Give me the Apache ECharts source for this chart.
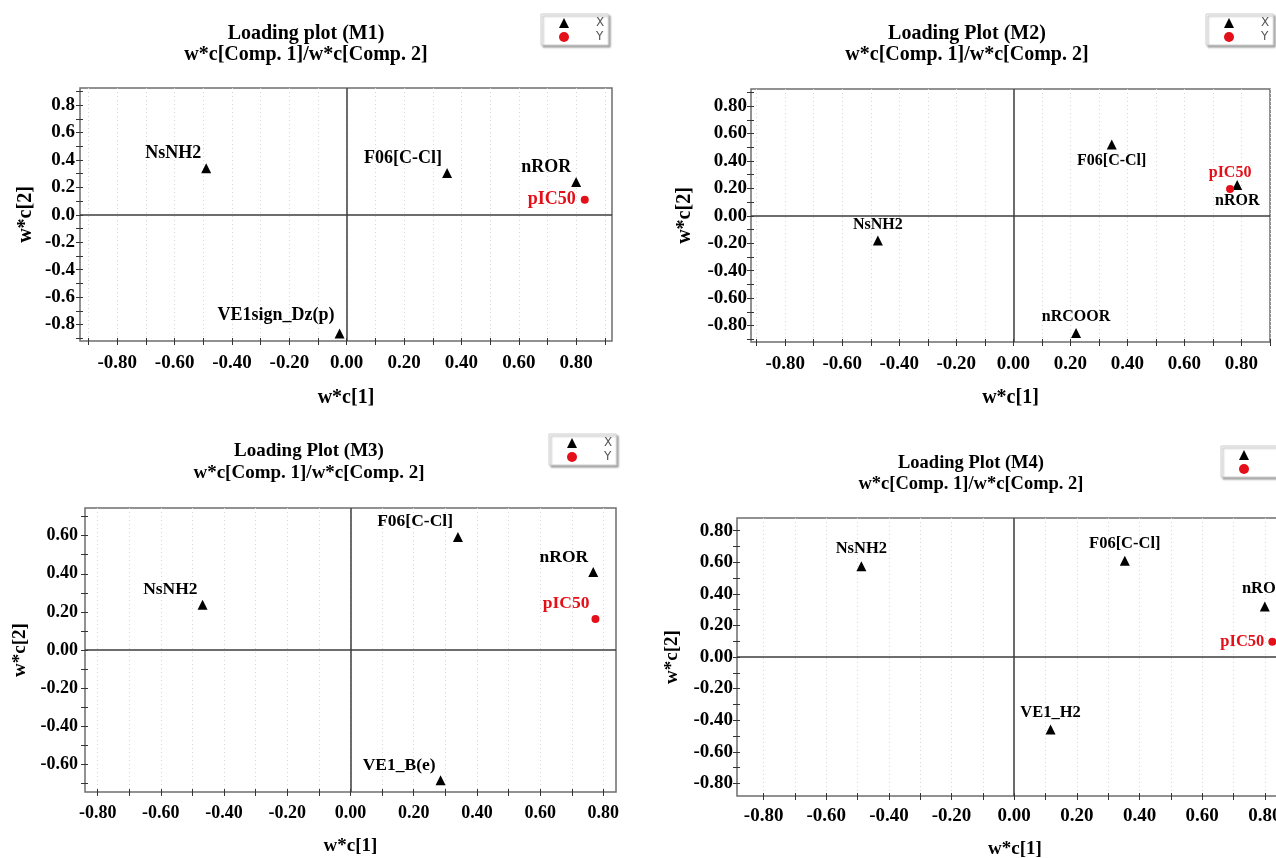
<!DOCTYPE html>
<html>
<head>
<meta charset="utf-8">
<title>PLS loading plots M1-M4</title>
<script src="https://cdn.jsdelivr.net/npm/echarts@6/dist/echarts.min.js"></script>
<style>
  html, body { margin: 0; padding: 0; background: #ffffff; }
  #chart { width: 1276px; height: 858px; }
</style>
</head>
<body>
<div id="chart"></div>
<script>
// ---- Loadings w*c[1] / w*c[2] for the four PLS models ----
// M1
const m1XVars = ['NsNH2', 'F06[C-Cl]', 'nROR', 'VE1sign_Dz(p)'];
const m1XW1 = [-0.49, 0.35, 0.80, -0.025];
const m1XW2 = [0.34, 0.305, 0.24, -0.865];
const m1YVars = ['pIC50'];
const m1YW1 = [0.83];
const m1YW2 = [0.11];
// M2
const m2XVars = ['F06[C-Cl]', 'nROR', 'NsNH2', 'nRCOOR'];
const m2XW1 = [0.345, 0.785, -0.475, 0.22];
const m2XW2 = [0.52, 0.225, -0.18, -0.855];
const m2YVars = ['pIC50'];
const m2YW1 = [0.76];
const m2YW2 = [0.195];
// M3
const m3XVars = ['NsNH2', 'F06[C-Cl]', 'nROR', 'VE1_B(e)'];
const m3XW1 = [-0.468, 0.34, 0.768, 0.285];
const m3XW2 = [0.238, 0.593, 0.409, -0.684];
const m3YVars = ['pIC50'];
const m3YW1 = [0.775];
const m3YW2 = [0.163];
// M4
const m4XVars = ['NsNH2', 'F06[C-Cl]', 'nROR', 'VE1_H2'];
const m4XW1 = [-0.488, 0.353, 0.80, 0.116];
const m4XW2 = [0.574, 0.61, 0.32, -0.459];
const m4YVars = ['pIC50'];
const m4YW1 = [0.824];
const m4YW2 = [0.097];

// ---- Tick marks and tick labels ----
const ticksPm09 = [-0.9, -0.8, -0.7, -0.6, -0.5, -0.4, -0.3, -0.2, -0.1, 0, 0.1, 0.2, 0.3, 0.4, 0.5, 0.6, 0.7, 0.8, 0.9];
const ticksPm08 = [-0.8, -0.7, -0.6, -0.5, -0.4, -0.3, -0.2, -0.1, 0, 0.1, 0.2, 0.3, 0.4, 0.5, 0.6, 0.7, 0.8];
const ticksPm07 = [-0.7, -0.6, -0.5, -0.4, -0.3, -0.2, -0.1, 0, 0.1, 0.2, 0.3, 0.4, 0.5, 0.6, 0.7];
const labelsPm08 = [-0.8, -0.6, -0.4, -0.2, 0, 0.2, 0.4, 0.6, 0.8];
const labelsPm06 = [-0.6, -0.4, -0.2, 0, 0.2, 0.4, 0.6];

const titles = ['Loading plot (M1)', 'Loading Plot (M2)', 'Loading Plot (M3)', 'Loading Plot (M4)'];
const subtitle = 'w*c[Comp. 1]/w*c[Comp. 2]';
const xName = 'w*c[1]';
const yName = 'w*c[2]';
const legendNames = ['X', 'Y'];

// ---- Styling ----
const SERIF = '"Liberation Serif", "Times New Roman", serif';
const INK = '#000000';
const RED = '#e3101a';

// Label placements (style only)
const UPLEFT = { position: 'left', distance: 0, offset: [0, -15] };
const place = {
  m1: { 'NsNH2': UPLEFT, 'F06[C-Cl]': UPLEFT, 'nROR': UPLEFT,
        'VE1sign_Dz(p)': { position: 'left', distance: 0, offset: [0, -18] },
        'pIC50': { position: 'left', distance: 5 } },
  m2: { 'F06[C-Cl]': { position: 'bottom', distance: 3 }, 'nROR': { position: 'bottom', distance: 3 },
        'NsNH2': { position: 'top', distance: 3 }, 'nRCOOR': { position: 'top', distance: 3 },
        'pIC50': { position: 'top', distance: 4 } },
  m3: { 'NsNH2': UPLEFT, 'F06[C-Cl]': UPLEFT, 'nROR': UPLEFT, 'VE1_B(e)': UPLEFT,
        'pIC50': { position: 'left', distance: 2, offset: [0, -15] } },
  m4: { 'NsNH2': { position: 'top', distance: 4 }, 'F06[C-Cl]': { position: 'top', distance: 4 },
        'nROR': { position: 'top', distance: 4 }, 'VE1_H2': { position: 'top', distance: 4 },
        'pIC50': { position: 'left', distance: 4 } }
};

const panels = [
  { key: 'm1', title: titles[0], xv: m1XVars, x1: m1XW1, x2: m1XW2, yv: m1YVars, y1: m1YW1, y2: m1YW2,
    grid: { left: 80, top: 88, width: 532, height: 253 },
    xr: [-0.93, 0.925], yr: [-0.92, 0.925], xt: ticksPm09, xl: labelsPm08, yt: ticksPm09, yl: labelsPm08, yDigits: 1,
    tickFont: 19, labFont: 18, titleFont: 20, titleCx: 306, titleTop: 23, titleGap: 0,
    xMargin: 13, yMargin: 5, xNameGap: 47, yNameGap: 44, nameFont: 20,
    legend: { left: 541, top: 14 } },
  { key: 'm2', title: titles[1], xv: m2XVars, x1: m2XW1, x2: m2XW2, yv: m2YVars, y1: m2YW1, y2: m2YW2,
    grid: { left: 751, top: 89, width: 519, height: 253 },
    xr: [-0.92, 0.90], yr: [-0.92, 0.925], xt: ticksPm09, xl: labelsPm08, yt: ticksPm09, yl: labelsPm08, yDigits: 2,
    tickFont: 19, labFont: 16, titleFont: 20, titleCx: 967, titleTop: 23, titleGap: 0,
    xMargin: 13, yMargin: 4, xNameGap: 46, yNameGap: 56, nameFont: 20,
    legend: { left: 1206, top: 14 } },
  { key: 'm3', title: titles[2], xv: m3XVars, x1: m3XW1, x2: m3XW2, yv: m3YVars, y1: m3YW1, y2: m3YW2,
    grid: { left: 85, top: 508, width: 531, height: 284 },
    xr: [-0.84, 0.84], yr: [-0.745, 0.745], xt: ticksPm08, xl: labelsPm08, yt: ticksPm07, yl: labelsPm06, yDigits: 2,
    tickFont: 18, labFont: 17.5, titleFont: 19, titleCx: 309, titleTop: 441.5, titleGap: 2,
    xMargin: 12, yMargin: 7, xNameGap: 45, yNameGap: 55, nameFont: 19,
    legend: { left: 549, top: 434 } },
  { key: 'm4', title: titles[3], xv: m4XVars, x1: m4XW1, x2: m4XW2, yv: m4YVars, y1: m4YW1, y2: m4YW2,
    grid: { left: 737, top: 518, width: 556, height: 278 },
    xr: [-0.885, 0.89], yr: [-0.88, 0.88], xt: ticksPm09, xl: labelsPm08, yt: ticksPm09, yl: labelsPm08, yDigits: 2,
    tickFont: 19, labFont: 16.5, titleFont: 18.5, titleCx: 971, titleTop: 453.5, titleGap: 1,
    xMargin: 11, yMargin: 4, xNameGap: 44, yNameGap: 55, nameFont: 19,
    legend: { left: 1221, top: 446 } }
];

const option = {
  animation: false,
  backgroundColor: '#ffffff',
  title: [], legend: [], grid: [], xAxis: [], yAxis: [], series: []
};

panels.forEach(function (p, i) {
  const textBold = { fontFamily: SERIF, fontWeight: 'bold', color: INK };

  option.title.push({
    text: p.title, subtext: subtitle,
    left: p.titleCx, top: p.titleTop, textAlign: 'center', padding: 0, itemGap: p.titleGap,
    textStyle: Object.assign({ fontSize: p.titleFont, lineHeight: p.titleFont + 1 }, textBold),
    subtextStyle: Object.assign({ fontSize: p.titleFont, lineHeight: p.titleFont + 1 }, textBold)
  });

  option.legend.push({
    orient: 'vertical', left: p.legend.left, top: p.legend.top,
    selectedMode: false,
    data: [{ name: legendNames[0], icon: 'triangle' }, { name: legendNames[1], icon: 'circle' }],
    itemWidth: 10, itemHeight: 10, itemGap: 2,
    padding: [3, 4, 2, 18],
    backgroundColor: '#ffffff', borderColor: '#cfcfcf', borderWidth: 1,
    shadowColor: 'rgba(0,0,0,0.35)', shadowBlur: 2, shadowOffsetX: 2, shadowOffsetY: 2,
    textStyle: { fontFamily: '"DejaVu Sans", sans-serif', fontSize: 12, lineHeight: 12, color: '#555555', padding: [0, 0, 0, 22] }
  });

  option.grid.push(Object.assign({
    show: true, borderColor: '#6e6e6e', borderWidth: 1.5, backgroundColor: 'transparent',
    containLabel: false, outerBoundsMode: 'none'
  }, p.grid));

  const tickStyle = { color: '#333333', width: 1 };

  // bottom axis with labels, outward ticks and dotted verticals
  option.xAxis.push({
    type: 'value', gridIndex: i, position: 'bottom', min: p.xr[0], max: p.xr[1],
    axisLine: { show: false, onZero: false },
    axisTick: { show: true, customValues: p.xt, length: 4, lineStyle: tickStyle },
    axisLabel: Object.assign({ customValues: p.xl, margin: p.xMargin, fontSize: p.tickFont,
      formatter: function (v) { return v.toFixed(2); } }, textBold),
    splitLine: { show: true, lineStyle: { color: '#d6d6d6', width: 1, type: [1, 3] } },
    name: xName, nameLocation: 'middle', nameGap: p.xNameGap,
    nameTextStyle: Object.assign({ fontSize: p.nameFont }, textBold)
  });
  // inward half of the bottom ticks
  option.xAxis.push({
    type: 'value', gridIndex: i, position: 'bottom', min: p.xr[0], max: p.xr[1],
    axisLine: { show: false, onZero: false },
    axisTick: { show: true, inside: true, customValues: p.xt, length: 3, lineStyle: tickStyle },
    axisLabel: { show: false }, splitLine: { show: false }
  });

  option.yAxis.push({
    type: 'value', gridIndex: i, position: 'left', min: p.yr[0], max: p.yr[1],
    axisLine: { show: false, onZero: false },
    axisTick: { show: true, customValues: p.yt, length: 4, lineStyle: tickStyle },
    axisLabel: Object.assign({ customValues: p.yl, margin: p.yMargin, fontSize: p.tickFont,
      formatter: (function (d) { return function (v) { return v.toFixed(d); }; })(p.yDigits) }, textBold),
    splitLine: { show: false },
    name: yName, nameLocation: 'middle', nameGap: p.yNameGap, nameRotate: 90,
    nameTextStyle: Object.assign({ fontSize: p.nameFont }, textBold)
  });
  option.yAxis.push({
    type: 'value', gridIndex: i, position: 'left', min: p.yr[0], max: p.yr[1],
    axisLine: { show: false, onZero: false },
    axisTick: { show: true, inside: true, customValues: p.yt, length: 3, lineStyle: tickStyle },
    axisLabel: { show: false }, splitLine: { show: false }
  });

  const pl = place[p.key];
  const labelBase = { show: true, formatter: '{b}', fontFamily: SERIF, fontWeight: 'bold', fontSize: p.labFont, lineHeight: p.labFont };

  option.series.push({
    type: 'scatter', name: legendNames[0], xAxisIndex: 2 * i, yAxisIndex: 2 * i,
    symbol: 'triangle', symbolSize: 10,
    itemStyle: { color: '#000000', opacity: 1 },
    label: Object.assign({ color: INK }, labelBase),
    data: p.xv.map(function (n, k) {
      return { name: n, value: [p.x1[k], p.x2[k]], label: pl[n] };
    }),
    markLine: {
      silent: true, symbol: 'none', label: { show: false },
      lineStyle: { color: '#3c3c3c', width: 1.5, type: 'solid', opacity: 1 },
      data: [{ xAxis: 0 }, { yAxis: 0 }]
    },
    z: 3
  });
  option.series.push({
    type: 'scatter', name: legendNames[1], xAxisIndex: 2 * i, yAxisIndex: 2 * i,
    symbol: 'circle', symbolSize: 8,
    itemStyle: { color: RED, opacity: 1 },
    label: Object.assign({ color: RED }, labelBase),
    data: p.yv.map(function (n, k) {
      return { name: n, value: [p.y1[k], p.y2[k]], label: pl[n] };
    }),
    z: 4
  });
});

const chart = echarts.init(document.getElementById('chart'), null, { renderer: 'canvas' });
chart.setOption(option);
</script>
</body>
</html>
